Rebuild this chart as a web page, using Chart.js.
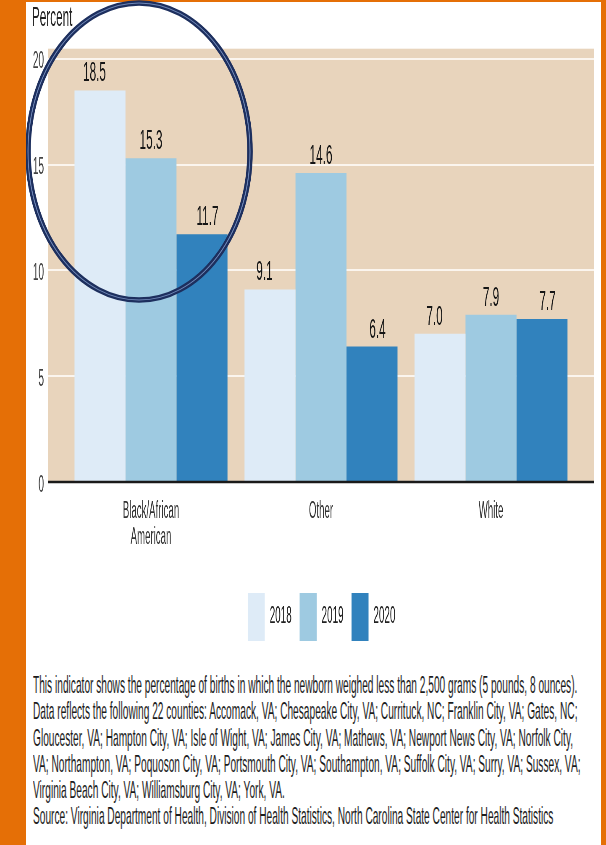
<!DOCTYPE html>
<html>
<head>
<meta charset="utf-8">
<script src="https://cdn.jsdelivr.net/npm/chart.js@4.4.1/dist/chart.umd.min.js"></script>
<style>
    html, body { margin: 0; padding: 0; width: 606px; height: 845px; overflow: hidden; background: #e56f06; }
    #panel { position: absolute; left: 26px; top: 2px; width: 575px; height: 843px; background: #fff; }
    /* the reference is strongly condensed horizontally, so the chart is laid out wide and squeezed */
    #chartBox { position: absolute; left: 26px; top: -8px; width: 1369px; height: 659px; transform: scaleX(0.42); transform-origin: 0 0; }
    #notes { position: absolute; left: 33px; top: 672px; transform: scaleX(0.42); transform-origin: 0 0;
             font: 24.2px 'Liberation Sans', Arial, sans-serif; line-height: 26.3px; color: #1c1c1c; white-space: nowrap; }
</style>
</head>
<body>
<div id="panel"></div>
<div id="chartBox"><canvas id="chart"></canvas></div>
<div id="notes">
    <div>This indicator shows the percentage of births in which the newborn weighed less than 2,500 grams (5 pounds, 8 ounces).</div>
    <div>Data reflects the following 22 counties: Accomack, VA; Chesapeake City, VA; Currituck, NC; Franklin City, VA; Gates, NC;</div>
    <div>Gloucester, VA; Hampton City, VA; Isle of Wight, VA; James City, VA; Mathews, VA; Newport News City, VA; Norfolk City,</div>
    <div>VA; Northampton, VA; Poquoson City, VA; Portsmouth City, VA; Southampton, VA; Suffolk City, VA; Surry, VA; Sussex, VA;</div>
    <div>Virginia Beach City, VA; Williamsburg City, VA; York, VA.</div>
    <div>Source: Virginia Department of Health, Division of Health Statistics, North Carolina State Center for Health Statistics</div>
</div>
<script>
const categories = [['Black/African', 'American'], 'Other', 'White'];
const years = ['2018', '2019', '2020'];
const values2018 = [18.5, 9.1, 7.0];
const values2019 = [15.3, 14.6, 7.9];
const values2020 = [11.7, 6.4, 7.7];
const yTicks = [0, 5, 10, 15, 20];
const barColors = ['#deebf7', '#9ecae1', '#3182bd'];

const SQUEEZE = 0.42;             // must match the scaleX in the css
const PAD_X = 18 / SQUEEZE;       // tan panel reaches past the bar groups
const LABEL_DODGE = 5.5 / SQUEEZE;

Chart.defaults.font.family = "'Liberation Sans', Arial, sans-serif";

const plotBackground = {
    id: 'plotBackground',
    beforeDatasetsDraw(chart) {
        const { ctx, chartArea: a, scales: { y } } = chart;
        const left = a.left - PAD_X, right = a.right + PAD_X;
        ctx.save();
        ctx.fillStyle = '#e8d4bc';
        ctx.fillRect(left, a.top - 10, right - left, a.bottom - a.top + 10);
        ctx.strokeStyle = '#fbf5ee';
        ctx.lineWidth = 2.2;
        y.ticks.forEach(t => {
            if (t.value === 0) return;
            const py = Math.round(y.getPixelForValue(t.value));
            ctx.beginPath();
            ctx.moveTo(left, py);
            ctx.lineTo(right, py);
            ctx.stroke();
        });
        ctx.restore();
    },
    afterDatasetsDraw(chart) {
        const { ctx, chartArea: a, scales: { y } } = chart;
        ctx.save();
        // baseline
        const y0 = y.getPixelForValue(0);
        ctx.strokeStyle = '#1a1a1a';
        ctx.lineWidth = 2.5;
        ctx.beginPath();
        ctx.moveTo(a.left - PAD_X, y0);
        ctx.lineTo(a.right + PAD_X, y0);
        ctx.stroke();

        // value labels
        ctx.fillStyle = '#151515';
        ctx.font = "28px 'Liberation Sans', Arial, sans-serif";
        ctx.textAlign = 'center';
        ctx.textBaseline = 'alphabetic';
        chart.data.datasets.forEach((ds, d) => {
            chart.getDatasetMeta(d).data.forEach((bar, i) => {
                ctx.fillText(ds.data[i].toFixed(1), bar.x + (d - 1) * LABEL_DODGE, bar.y - 9);
            });
        });
        ctx.restore();
    },
    afterDraw(chart) {
        // hand-drawn highlight ring around the first group
        const { ctx } = chart;
        ctx.save();
        ctx.scale(1 / SQUEEZE, 1);
        ctx.beginPath();
        ctx.ellipse(113, 159.5, 111, 148.5, 0, 0, Math.PI * 2);
        ctx.strokeStyle = '#1d2f5e';
        ctx.lineWidth = 5.5;
        ctx.stroke();
        ctx.strokeStyle = '#7088b8';
        ctx.lineWidth = 1;
        ctx.stroke();
        ctx.restore();
    }
};

const legendShift = {
    id: 'legendShift',
    afterLayout(chart) {
        chart.legend.left += 42;
        chart.legend.right += 42;
    }
};

new Chart(document.getElementById('chart'), {
    type: 'bar',
    data: {
        labels: categories,
        datasets: [
            { label: years[0], data: values2018, backgroundColor: barColors[0] },
            { label: years[1], data: values2019, backgroundColor: barColors[1] },
            { label: years[2], data: values2020, backgroundColor: barColors[2] }
        ]
    },
    options: {
        responsive: true,
        maintainAspectRatio: false,
        animation: false,
        layout: { padding: { left: 14, right: 59.5, top: 0, bottom: 0 } },
        datasets: { bar: { categoryPercentage: 0.9, barPercentage: 1.0, borderWidth: 0 } },
        scales: {
            x: {
                grid: { display: false, drawTicks: false },
                border: { display: false },
                ticks: {
                    color: '#333',
                    padding: 16,
                    maxRotation: 0,
                    font: { size: 23, lineHeight: 1.15 }
                },
                afterFit: s => { s.height = 92; }
            },
            y: {
                min: 0,
                max: 20,
                grid: { display: false, drawTicks: false },
                border: { display: false },
                ticks: {
                    color: '#444',
                    padding: 52.3,
                    labelOffset: 3,
                    font: { size: 24 }
                },
                afterBuildTicks: s => { s.ticks = yTicks.map(v => ({ value: v })); },
                afterFit: s => { s.width = 81.2; }
            }
        },
        plugins: {
            title: {
                display: true,
                text: 'Percent',
                align: 'start',
                color: '#222',
                font: { size: 28, weight: 'normal' },
                padding: { top: 1, bottom: 23.4 }
            },
            legend: {
                position: 'bottom',
                labels: {
                    boxWidth: 40.5,
                    boxHeight: 48,
                    padding: 19,
                    color: '#222',
                    font: { size: 23.5 }
                }
            },
            tooltip: { enabled: false }
        }
    },
    plugins: [plotBackground, legendShift]
});
</script>
</body>
</html>
